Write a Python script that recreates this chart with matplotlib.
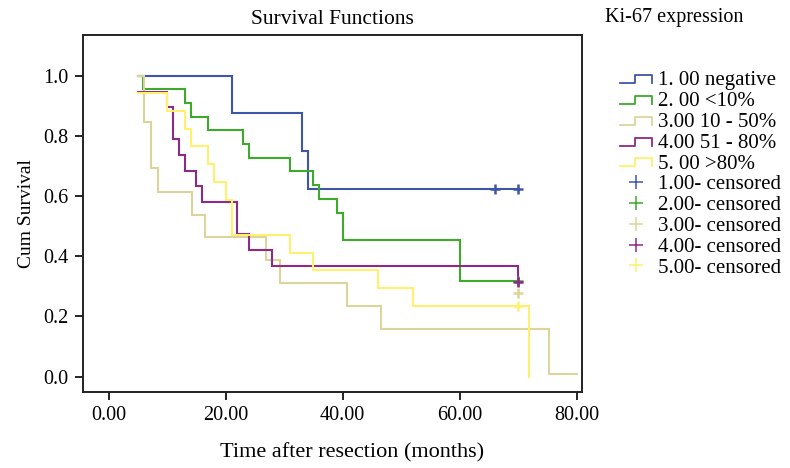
import numpy as np
import matplotlib
matplotlib.use("Agg")
import matplotlib.pyplot as plt
from matplotlib.lines import Line2D
from matplotlib.legend_handler import HandlerBase

plt.rcParams['font.family'] = ['Liberation Serif', 'DejaVu Serif']

# ---- data ----
labels = ["1. 00 negative", "2. 00 <10%", "3.00 10 - 50%", "4.00 51 - 80%", "5. 00 >80%"]
censor_labels = ["1.00- censored", "2.00- censored", "3.00- censored", "4.00- censored", "5.00- censored"]
colors = ["#3E56A8", "#3DAA2C", "#DDD49C", "#8C2A86", "#FFF06E"]

t1 = [5.0, 21.0, 33.0, 34.0, 70.0]
s1 = [1.0, 0.875, 0.75, 0.625, 0.625]
c1_t = [66.0, 70.0]
c1_s = [0.625, 0.625]

t2 = [5.0, 5.9, 13.0, 14.0, 17.0, 23.0, 24.0, 31.0, 35.0, 36.0, 39.0, 40.0, 60.0, 70.0]
s2 = [1.0, 0.955, 0.909, 0.864, 0.818, 0.773, 0.727, 0.682, 0.636, 0.591, 0.545, 0.455, 0.318, 0.318]
c2_t = [70.0]
c2_s = [0.318]

t3 = [5.0, 6.1, 7.2, 8.4, 14.2, 16.5, 26.9, 29.2, 40.7, 46.5, 75.3, 80.0]
s3 = [1.0, 0.846, 0.692, 0.615, 0.538, 0.465, 0.388, 0.312, 0.235, 0.158, 0.01, 0.01]
c3_t = [70.0]
c3_s = [0.277]

t4 = [5.0, 10.0, 11.0, 12.0, 13.0, 15.0, 15.9, 22.0, 24.0, 28.0, 70.0]
s4 = [0.947, 0.895, 0.789, 0.737, 0.684, 0.632, 0.579, 0.474, 0.421, 0.368, 0.316]
c4_t = [70.0]
c4_s = [0.316]

t5 = [5.0, 10.0, 13.0, 14.0, 17.0, 18.0, 20.0, 21.0, 31.0, 35.0, 46.0, 52.0, 71.9]
s5 = [0.941, 0.882, 0.824, 0.765, 0.706, 0.647, 0.588, 0.471, 0.412, 0.353, 0.294, 0.235, 0.0]
c5_t = [70.0]
c5_s = [0.235]

x_ticks = [0, 20, 40, 60, 80]
x_ticklabels = ["0.00", "20.00", "40.00", "60.00", "80.00"]
y_ticks = [0.0, 0.2, 0.4, 0.6, 0.8, 1.0]
y_ticklabels = ["0.0", "0.2", "0.4", "0.6", "0.8", "1.0"]

curves = [(t1, s1), (t2, s2), (t3, s3), (t4, s4), (t5, s5)]
censors = [(c1_t, c1_s), (c2_t, c2_s), (c3_t, c3_s), (c4_t, c4_s), (c5_t, c5_s)]

# ---- figure ----
fig = plt.figure(figsize=(7.9, 4.68), dpi=100)
ax = fig.add_axes([0.1047, 0.1617, 0.6316, 0.7635])

for (t, s), col in zip(curves, colors):
    ax.step(t, s, where='post', color=col, lw=1.5, solid_joinstyle='miter')
for (t, s), col in zip(censors, colors):
    ax.plot(t, s, linestyle='none', marker='+', markersize=7, mew=1.8, color=col)

ax.set_xlim(-4.44, 80.85)
ax.set_ylim(-0.052, 1.135)
ax.set_xticks(x_ticks)
ax.set_xticklabels(x_ticklabels)
ax.set_yticks(y_ticks)
ax.set_yticklabels(y_ticklabels)
ax.tick_params(direction='out', length=6, width=1.2, labelsize=14.5, pad=4)
for sp in ax.spines.values():
    sp.set_linewidth(1.4)
    sp.set_color('#222222')

ax.set_title("Survival Functions", fontsize=15.5, pad=8)
ax.set_xlabel("Time after resection (months)", fontsize=16, labelpad=13, x=0.54)
ax.set_ylabel("Cum Survival", fontsize=14, labelpad=6)

fig.text(0.766, 0.963, "Ki-67 expression", fontsize=14.5, va='center', ha='left')


class StepHandler(HandlerBase):
    def create_artists(self, legend, orig_handle, xdescent, ydescent,
                       width, height, fontsize, trans):
        xs = np.array([0.0, 0.45 * width, 0.45 * width, width, width]) - xdescent
        ys = np.array([0.15 * height, 0.15 * height, 0.7 * height, 0.7 * height, 0.15 * height]) - ydescent
        ln = Line2D(xs, ys, color=orig_handle.get_color(), lw=1.3)
        ln.set_transform(trans)
        return [ln]


step_handles = [Line2D([], [], color=c) for c in colors]
cens_handles = [Line2D([], [], color=c, marker='+', linestyle='none', markersize=10, mew=1.1) for c in colors]
handler_map = {h: StepHandler() for h in step_handles}

leg = fig.legend(step_handles + cens_handles, labels + censor_labels,
                 handler_map=handler_map, loc='upper left',
                 bbox_to_anchor=(0.785, 0.849), frameon=False, fontsize=15,
                 handlelength=1.55, handletextpad=0.25, labelspacing=0.06,
                 borderaxespad=0.0, borderpad=0.0)

fig.savefig("out.png", dpi=100)
